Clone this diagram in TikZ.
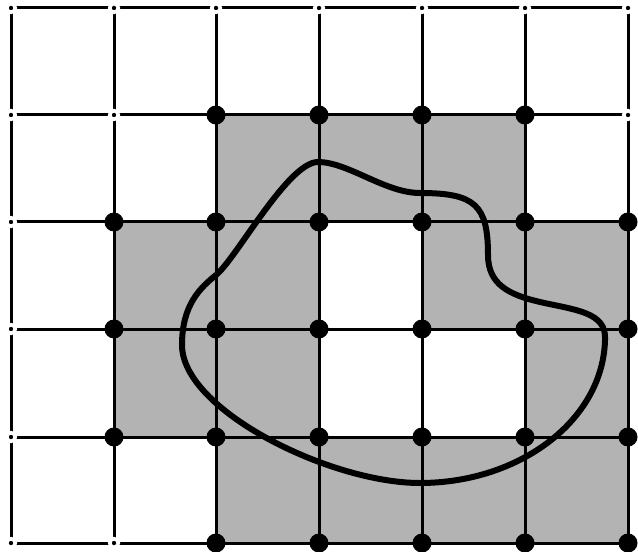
\documentclass[tikz,border=0pt]{standalone}
\usetikzlibrary{calc}
\definecolor{cellgrey}{RGB}{179,179,179}
\begin{document}
\begin{tikzpicture}[x=1bp,y=-1bp,
  gridline/.style={line width=3bp,black},
  cell/.style={fill=cellgrey},
  bigdot/.style={circle,fill=black,inner sep=0pt,minimum size=19bp},
  smalldot/.style={circle,fill=black,draw=white,line width=3.6bp,inner sep=0pt,minimum size=8.6bp},
  blob/.style={line width=6bp,black,line join=round}]
\useasboundingbox (0,0) rectangle (638,552);
\fill[white] (0,0) rectangle (638,552);
\def\gx#1{\ifcase#1 11\or 114\or 216\or 319\or 422\or 525\or 628\fi}
\def\gy#1{\ifcase#1 8\or 115\or 222\or 329\or 437\or 543\fi}
% grey cells (col,row)
\foreach \c/\r in {2/1,3/1,4/1, 1/2,2/2,4/2,5/2, 1/3,2/3,5/3, 2/4,3/4,4/4,5/4}{
  \pgfmathtruncatemacro\cc{\c+1}\pgfmathtruncatemacro\rr{\r+1}
  \fill[cell] (\gx{\c},\gy{\r}) rectangle (\gx{\cc},\gy{\rr});
}
% grid lines
\foreach \r in {0,...,5}{\draw[gridline] (\gx{0},\gy{\r}) -- (\gx{6},\gy{\r});}
\foreach \c in {0,...,6}{\draw[gridline] (\gx{\c},\gy{0}) -- (\gx{\c},\gy{5});}
% closed curve
\draw[blob] (318,162)
  .. controls (348,162) and (385,193) .. (420,193)
  .. controls (475,193) and (488,205) .. (488,255)
  .. controls (488,285) and (510,295) .. (540,302)
  .. controls (575,310) and (607,312) .. (605,340)
  .. controls (603,420) and (520,483) .. (420,483)
  .. controls (330,483) and (182,410) .. (182,345)
  .. controls (182,305) and (200,288) .. (216,275)
  .. controls (236,259) and (288,162) .. (318,162) -- cycle;
% vertex dots
\foreach \c/\r/\t in {
 0/0/s,1/0/s,2/0/s,3/0/s,4/0/s,5/0/s,6/0/s,
 0/1/s,1/1/s,2/1/b,3/1/b,4/1/b,5/1/b,6/1/s,
 0/2/s,1/2/b,2/2/b,3/2/b,4/2/b,5/2/b,6/2/b,
 0/3/s,1/3/b,2/3/b,3/3/b,4/3/b,5/3/b,6/3/b,
 0/4/s,1/4/b,2/4/b,3/4/b,4/4/b,5/4/b,6/4/b,
 0/5/s,1/5/s,2/5/b,3/5/b,4/5/b,5/5/b,6/5/b}{
  \if b\t
    \node[bigdot] (v\c-\r) at (\gx{\c},\gy{\r}) {};
  \else
    \node[smalldot] (v\c-\r) at (\gx{\c},\gy{\r}) {};
  \fi
}
\end{tikzpicture}
\end{document}
